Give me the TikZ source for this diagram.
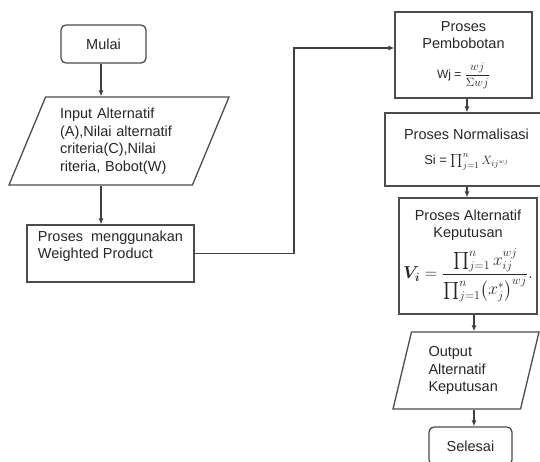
\documentclass[tikz,border=0pt]{standalone}
\usepackage{amsmath,amssymb}
\usepackage{fontspec}
\setmainfont{Liberation Sans}
\usetikzlibrary{shapes.geometric,arrows.meta}

\begin{document}
\begin{tikzpicture}[x=1pt,y=-1pt,
		every node/.style={text=black!85,font=\fontsize{14.5}{17.5}\selectfont},
		kotak/.style={draw=black!70,line width=1.3pt,rectangle,inner sep=0pt,align=center},
		terminal/.style={kotak,rounded corners=5pt},
		data/.style={draw=black!70,line width=1.3pt,trapezium,trapezium stretches body,inner sep=0pt,align=left},
		panah/.style={draw=black!75,line width=1.1pt,-{Latex[length=6pt,width=5pt]}}]
		\useasboundingbox (0,0) rectangle (540,461);
		\clip (0,0) rectangle (540,461);
		
		% Kolom kiri
		\node[terminal,minimum width=85pt,minimum height=38pt] (Mulai) at (103.5,44) {Mulai};
		\node[data,minimum width=220pt,minimum height=88pt,trapezium left angle=61,trapezium right angle=119,text width=118pt] (Input) at (119,141) {Input Alternatif\\(A),Nilai alternatif\\criteria(C),Nilai\\riteria, Bobot(W)};
		\node[kotak,minimum width=167pt,minimum height=57pt,align=left] (Proses) at (110.5,253.5) {Proses\ \ menggunakan\\Weighted Product\\\mbox{}};
		
		% Kolom kanan
		\node[kotak,minimum width=137pt,minimum height=86pt] (Pembobotan) at (463.5,55) {Proses\\Pembobotan\\[12pt]{\fontsize{12}{14}\selectfont Wj = $\dfrac{wj}{\Sigma wj}$}};
		\node[kotak,minimum width=163pt,minimum height=73pt] (Normalisasi) at (466.5,149.5) {Proses Normalisasi\\[7pt]{\fontsize{13}{15}\selectfont Si = $\prod_{j=1}^{n} X_{ij^{wj}}$}};
		\node[kotak,minimum width=138pt,minimum height=116pt] (Alternatif) at (468,256) {Proses Alternatif\\Keputusan\\[7pt]{\fontsize{17}{20}\selectfont $\boldsymbol{V_i}=\dfrac{\prod_{j=1}^{n} x_{ij}^{wj}}{\prod_{j=1}^{n}\bigl(x_j^{*}\bigr)^{wj}}.$}};
		\node[data,minimum width=146pt,minimum height=77pt,trapezium left angle=69,trapezium right angle=111,text width=75pt] (Output) at (466,370.5) {Output\\Alternatif\\Keputusan};
		\node[terminal,minimum width=83pt,minimum height=38pt] (Selesai) at (470.5,446) {Selesai};
		
		% Jalur panah
		\coordinate (kiri) at (101,0);
		\coordinate (kanan) at (467,0);
		\coordinate (bawah) at (474,0);
		\coordinate (belok) at (294,48);
		
		\draw[panah] (kiri |- Mulai.south) -- (kiri |- Input.north);
		\draw[panah] (kiri |- Input.south) -- (kiri |- Proses.north);
		\draw[panah] (Proses.east) -| (belok) -- (belok -| Pembobotan.west);
		\draw[panah] (kanan |- Pembobotan.south) -- (kanan |- Normalisasi.north);
		\draw[panah] (kanan |- Normalisasi.south) -- (kanan |- Alternatif.north);
		\draw[panah] (bawah |- Alternatif.south) -- (bawah |- Output.north);
		\draw[panah] (bawah |- Output.south) -- (bawah |- Selesai.north);
		
\end{tikzpicture}
\end{document}
